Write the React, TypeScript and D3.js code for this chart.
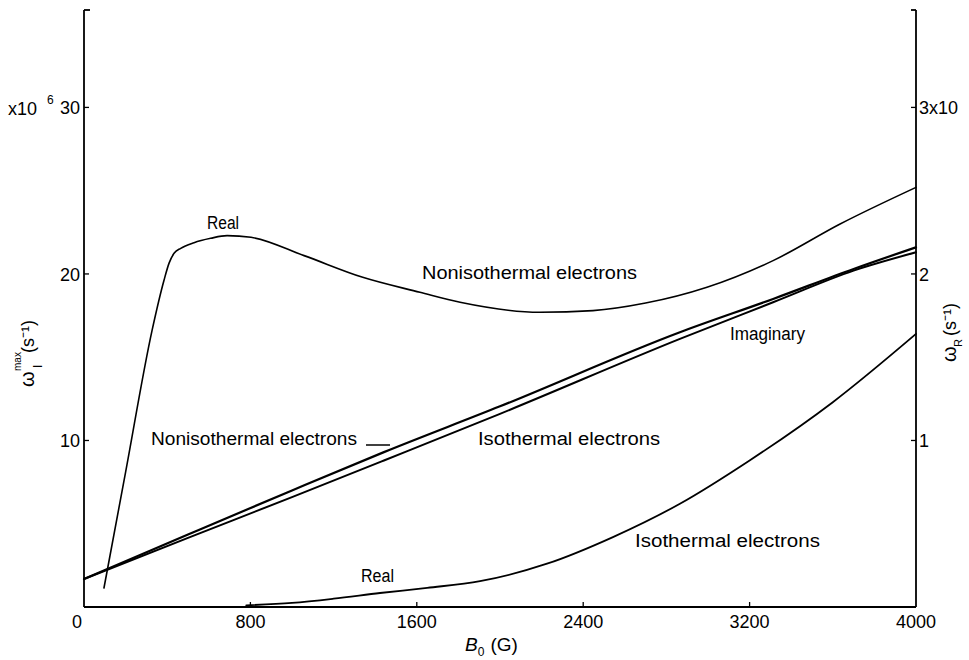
import * as d3 from "d3"

// B0 in gauss; imaginary parts in 10^6 s^-1 (left axis), real parts in 3x10 units (right axis)
const imagB = [0, 500, 1000, 1442, 2000, 2865, 3313, 3700, 4000]
const imagNoniso = [1.68, 4.35, 7.0, 9.3, 12.05, 16.5, 18.5, 20.3, 21.6]
const imagIso = [1.68, 4.15, 6.6, 8.8, 11.6, 16.1, 18.3, 20.2, 21.3]

const realNonisoB = [96, 200, 327, 385, 409, 433, 465, 529, 609, 688, 803, 1058, 1340, 1615, 1808, 2192, 2447, 2700, 2995, 3313, 3635, 4000]
const realNoniso = [0.114, 0.81, 1.66, 1.964, 2.065, 2.124, 2.154, 2.188, 2.214, 2.23, 2.22, 2.11, 1.98, 1.89, 1.83, 1.77, 1.78, 1.825, 1.92, 2.08, 2.3, 2.52]

const realIsoB = [780, 1000, 1200, 1423, 1650, 1904, 2226, 2543, 2865, 3200, 3600, 4000]
const realIso = [0.01, 0.025, 0.05, 0.084, 0.115, 0.155, 0.26, 0.42, 0.62, 0.88, 1.23, 1.64]

const xTicks = [0, 800, 1600, 2400, 3200, 4000]
const leftTicks = [10, 20, 30]
const rightTicks = [1, 2, 3]

const W = 969
const H = 660
const font = "'Liberation Sans', Arial, sans-serif"

export default function App() {
  const x = d3.scaleLinear().domain([0, 4000]).range([84, 916])
  const yL = d3.scaleLinear().domain([0, 35.85]).range([607, 10])
  const yR = d3.scaleLinear().domain([0, 3.585]).range([607, 10])

  const lineL = (xs: number[], ys: number[]) =>
    d3.line<number>().x((d) => x(d)).y((_, i) => yL(ys[i])).curve(d3.curveMonotoneX)(xs) ?? ""
  const lineR = (xs: number[], ys: number[]) =>
    d3.line<number>().x((d) => x(d)).y((_, i) => yR(ys[i])).curve(d3.curveMonotoneX)(xs) ?? ""

  const y0 = yL(0)

  return (
    <div style={{ position: "absolute", left: 0, top: 0, background: "#fff" }}>
      <svg width={W} height={H} style={{ display: "block" }} fontFamily={font} fill="#000">
        <rect width={W} height={H} fill="#fff" />

        {/* axes */}
        <g stroke="#000" strokeWidth={1.8} fill="none">
          <line x1={x(0)} x2={x(0)} y1={yL(35.85)} y2={y0} />
          <line x1={x(4000)} x2={x(4000)} y1={yL(35.85)} y2={y0} />
          <line x1={x(0)} x2={x(4000)} y1={y0} y2={y0} />
          <line x1={x(0)} x2={x(0) + 6} y1={yL(35.85)} y2={yL(35.85)} />
          <line x1={x(4000) - 5} x2={x(4000)} y1={yR(3.585)} y2={yR(3.585)} />
        </g>
        <g stroke="#000" strokeWidth={1.3}>
          {leftTicks.map((t) => (
            <line key={t} x1={x(0)} x2={x(0) + 5} y1={yL(t)} y2={yL(t)} />
          ))}
          {rightTicks.map((t) => (
            <line key={t} x1={x(4000) - 5} x2={x(4000)} y1={yR(t)} y2={yR(t)} />
          ))}
          {xTicks.slice(1, -1).map((t) => (
            <line key={t} x1={x(t)} x2={x(t)} y1={y0} y2={y0 - 5} />
          ))}
        </g>

        {/* tick labels */}
        <g fontSize={18}>
          {xTicks.map((t) => (
            <text key={t} x={x(t) + (t === 0 ? -7 : 0)} y={628} textAnchor="middle">
              {t}
            </text>
          ))}
          {leftTicks.map((t) => (
            <text key={t} x={80} y={yL(t) + 7} textAnchor="end">
              {t}
            </text>
          ))}
          <text x={8} y={115}>x10</text>
          <text x={47} y={104} fontSize={12}>6</text>
          {rightTicks.map((t) => (
            <text key={t} x={919} y={yR(t) + 7}>
              {t === 3 ? "3x10" : t}
            </text>
          ))}
        </g>

        {/* axis titles */}
        <g fontSize={19}>
          <text x={465} y={651}>
            <tspan fontStyle="italic">B</tspan>
            <tspan fontSize={12} dy={5}>0</tspan>
            <tspan dx={6} dy={-5}>(G)</tspan>
          </text>
        </g>
        <g transform="translate(34,387) rotate(-90)">
          <text x={0} y={0} fontSize={20}>ω</text>
          <text x={16} y={-13} fontSize={10}>max</text>
          <text x={19} y={8} fontSize={12}>I</text>
          <text x={34} y={0} fontSize={18}>(s⁻¹)</text>
        </g>
        <g transform="translate(956,362) rotate(-90)">
          <text x={0} y={0} fontSize={20}>ω</text>
          <text x={15} y={6} fontSize={11}>R</text>
          <text x={26} y={0} fontSize={18}>(s⁻¹)</text>
        </g>

        {/* curves */}
        <g fill="none" stroke="#000" strokeLinejoin="round" strokeLinecap="round">
          <path d={lineL(imagB, imagNoniso)} strokeWidth={2.2} />
          <path d={lineL(imagB, imagIso)} strokeWidth={2} />
          <path d={lineR(realNonisoB, realNoniso)} strokeWidth={1.6} />
          <path d={lineR(realIsoB, realIso)} strokeWidth={1.8} />
        </g>

        {/* annotations */}
        <g fontSize={18}>
          <text x={207} y={229} textLength={32} lengthAdjust="spacingAndGlyphs">Real</text>
          <text x={422} y={279} textLength={215} lengthAdjust="spacingAndGlyphs">Nonisothermal electrons</text>
          <text x={730} y={340} textLength={75} lengthAdjust="spacingAndGlyphs">Imaginary</text>
          <text x={151} y={445} textLength={206} lengthAdjust="spacingAndGlyphs">Nonisothermal electrons</text>
          <text x={478} y={445} textLength={182} lengthAdjust="spacingAndGlyphs">Isothermal electrons</text>
          <text x={635} y={547} textLength={185} lengthAdjust="spacingAndGlyphs">Isothermal electrons</text>
          <text x={361} y={582} textLength={33} lengthAdjust="spacingAndGlyphs">Real</text>
        </g>
        <line x1={366} x2={390} y1={445} y2={445} stroke="#000" strokeWidth={1.5} />
      </svg>
    </div>
  )
}
